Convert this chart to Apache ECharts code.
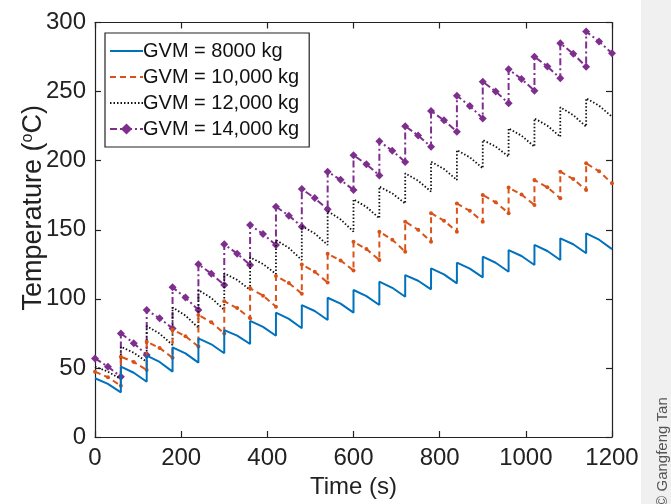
<!DOCTYPE html>
<html>
<head>
<meta charset="utf-8">
<script src="https://cdn.jsdelivr.net/npm/echarts@6/dist/echarts.min.js"></script>
<style>
html,body{margin:0;padding:0;background:#fff;}
#chart{width:671px;height:504px;}
</style>
</head>
<body>
<div id="chart"></div>
<script>
// Period start times (s)
const periodStarts = [0,60,120,180,240,300,360,420,480,540,600,660,720,780,840,900,960,1020,1080,1140];
const xTicks = [0,200,400,600,800,1000,1200];
const yTicks = [0,50,100,150,200,250,300];
const seriesNames = ['GVM = 8000 kg','GVM = 10,000 kg','GVM = 12,000 kg','GVM = 14,000 kg'];

// GVM 8000 kg : value at period start (after jump), at mid-period, and at period end
const blueStart = [42.5,50.9,58.9,64.9,71.4,77.4,84.0,90.0,95.5,100.8,106.4,112.4,117.2,122.1,126.2,130.5,135.3,139.0,143.8,147.4];
const blueMid   = [38.4,46.5,54.3,60.5,67.1,73.4,79.7,85.5,91.2,96.5,102.0,108.0,113.1,117.7,121.9,126.1,131.0,134.6,139.5,142.8];
const blueEnd   = [32.3,40.0,47.3,53.8,60.6,67.3,73.3,78.7,84.7,90.0,95.5,101.5,106.9,111.2,115.5,119.6,124.5,128.1,133.0,136.0];

// GVM 10,000 kg
const orangeStart = [47.3,58.1,69.0,77.9,88.3,98.2,107.6,116.5,124.8,132.6,141.3,148.6,155.8,162.0,169.0,175.1,180.5,186.0,192.0,198.1];
const orangeMid   = [43.2,54.3,64.4,72.9,83.0,93.3,102.3,111.4,119.6,127.8,136.0,142.8,150.0,156.6,163.7,169.9,175.5,180.7,186.7,192.3];
const orangeEnd   = [37.1,48.5,57.4,65.5,75.0,85.9,94.3,103.7,111.8,120.5,128.1,134.1,141.3,148.6,155.8,162.0,167.9,172.8,178.8,183.6];

// GVM 12,000 kg
const blackStart = [50.9,65.4,80.3,93.8,106.4,118.5,130.0,142.6,152.8,163.5,172.0,181.2,190.8,199.3,207.7,215.0,223.4,230.6,238.6,245.1];
const blackMid   = [47.3,61.0,74.8,87.9,100.6,113.7,125.2,136.8,147.3,157.5,166.5,176.3,185.5,194.0,202.4,210.2,218.1,225.3,233.0,239.8];
const blackEnd   = [42.0,54.5,66.6,79.0,92.0,106.5,118.0,128.1,139.0,148.6,158.3,169.0,177.6,186.0,194.5,203.0,210.1,217.3,224.6,231.8];

// GVM 14,000 kg
const purpleStart = [56.9,75.0,91.9,108.3,125.0,139.5,153.4,166.7,179.5,192.0,204.0,214.0,225.0,236.0,247.0,257.2,266.1,275.2,285.0,293.4];
const purpleMid   = [50.9,67.9,85.9,100.9,118.2,132.7,146.9,160.2,172.9,186.1,197.4,207.2,218.2,229.2,239.6,250.1,259.1,268.2,277.3,286.3];
const purpleEnd   = [43.6,59.3,78.6,91.9,110.0,124.5,139.0,152.2,164.8,178.8,189.3,199.0,210.0,221.0,230.6,241.5,250.6,259.6,268.0,277.7];

function build(start, mid, end) {
  const pts = [];
  for (let k = 0; k < periodStarts.length; k++) {
    const t = periodStarts[k];
    pts.push([t, start[k]]);
    pts.push([t + 30, mid[k]]);
    pts.push([t + 60, end[k]]);
  }
  return pts;
}

const FONT = 'Liberation Sans, Arial, sans-serif';
const chart = echarts.init(document.getElementById('chart'), null, {renderer: 'canvas'});

const axisCommon = {
  axisLine: {show: true, onZero: false, lineStyle: {color: '#222', width: 1.2}},
  axisTick: {show: true, inside: true, length: 6, lineStyle: {color: '#222', width: 1.2}},
  splitLine: {show: false}
};

chart.setOption({
  animation: false,
  backgroundColor: '#fff',
  grid: {left: 95, top: 22.5, width: 517, height: 414.5, containLabel: false},
  xAxis: [
    Object.assign({
      type: 'value', min: 0, max: 1200, interval: 200, position: 'bottom',
      name: 'Time (s)', nameLocation: 'middle', nameGap: 38,
      nameTextStyle: {fontFamily: FONT, fontSize: 24, color: '#222'},
      axisLabel: {fontFamily: FONT, fontSize: 24, color: '#222', margin: 9,
        formatter: v => xTicks.includes(v) ? String(v) : ''}
    }, axisCommon),
    Object.assign({
      type: 'value', min: 0, max: 1200, interval: 200, position: 'top',
      axisLabel: {show: false}
    }, axisCommon)
  ],
  yAxis: [
    Object.assign({
      type: 'value', min: 0, max: 300, interval: 50, position: 'left',
      name: 'Temperature ({sup|o}C)', nameLocation: 'middle', nameGap: 48, nameRotate: 90,
      nameMoveOverlap: false,
      nameTextStyle: {fontFamily: FONT, fontSize: 27, color: '#222', padding: [0, 0, 0, 44],
        rich: {sup: {fontFamily: FONT, fontSize: 16, color: '#222', verticalAlign: 'top', lineHeight: 27, padding: [0,0,9,0]}}},
      axisLabel: {fontFamily: FONT, fontSize: 24, color: '#222', margin: 9,
        formatter: v => yTicks.includes(v) ? String(v) : ''}
    }, axisCommon),
    Object.assign({
      type: 'value', min: 0, max: 300, interval: 50, position: 'right',
      axisLabel: {show: false}
    }, axisCommon)
  ],
  legend: {
    orient: 'vertical', left: 105, top: 33,
    backgroundColor: '#fff', borderColor: '#222', borderWidth: 1.2, borderRadius: 0,
    padding: [8, 10, 8, 4], itemGap: 6, itemWidth: 33, itemHeight: 14,
    textStyle: {fontFamily: FONT, fontSize: 20, color: '#111', padding: [0,0,0,-5]},
    data: [
      {name: seriesNames[0], itemStyle: {opacity: 0}},
      {name: seriesNames[1], itemStyle: {opacity: 0}},
      {name: seriesNames[2], itemStyle: {opacity: 0}},
      {name: seriesNames[3]}
    ],
    z: 10
  },
  series: [
    {name: seriesNames[0], type: 'line', data: build(blueStart, blueMid, blueEnd),
     showSymbol: false, symbol: 'none', color: '#0072BD',
     lineStyle: {width: 2, color: '#0072BD'}, z: 4},
    {name: seriesNames[1], type: 'line', data: build(orangeStart, orangeMid, orangeEnd),
     symbol: 'circle', symbolSize: 4, color: '#D95319',
     itemStyle: {color: '#D95319'},
     lineStyle: {width: 2, color: '#D95319', type: [6, 4]}, z: 3},
    {name: seriesNames[2], type: 'line', data: build(blackStart, blackMid, blackEnd),
     showSymbol: false, symbol: 'none', color: '#111',
     lineStyle: {width: 1.8, color: '#111', type: [1.5, 2]}, z: 2},
    {name: seriesNames[3], type: 'line', data: build(purpleStart, purpleMid, purpleEnd),
     symbol: 'diamond', symbolSize: 8, color: '#7E2F8E',
     itemStyle: {color: '#7E2F8E'},
     lineStyle: {width: 2, color: '#7E2F8E', type: [7, 3, 2, 3]}, z: 1}
  ],
  graphic: [
    {type: 'rect', shape: {x: 641, y: 0, width: 30, height: 504}, style: {fill: '#f0f0f0'}, silent: true, z: -1},
    {type: 'text', x: 663, y: 452, rotation: Math.PI / 2,
     style: {text: '© Gangfeng Tan', fontFamily: FONT, fontSize: 15, fill: '#555', align: 'center', verticalAlign: 'middle'}}
  ]
});
</script>
</body>
</html>
